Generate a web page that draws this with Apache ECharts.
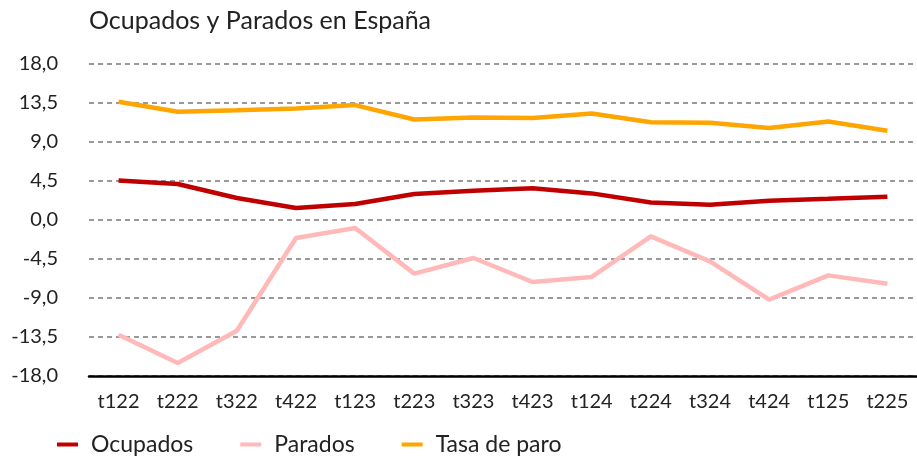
<!DOCTYPE html>
<html><head><meta charset="utf-8">
<script src="https://cdn.jsdelivr.net/npm/echarts@6/dist/echarts.min.js"></script>
<style>html,body{margin:0;padding:0;background:#fff}#c{width:917px;height:457px}</style>
</head><body><div id="c"></div>
<script>
const categories = ['t122','t222','t322','t422','t123','t223','t323','t423','t124','t224','t324','t424','t125','t225'];
const ocupados = [4.57, 4.15, 2.54, 1.38, 1.85, 3.0, 3.38, 3.65, 3.07, 2.03, 1.76, 2.22, 2.45, 2.69];
const parados = [-13.23, -16.5, -12.77, -2.08, -0.92, -6.19, -4.38, -7.15, -6.57, -1.89, -4.77, -9.19, -6.39, -7.35];
const tasaParo = [13.65, 12.48, 12.67, 12.87, 13.26, 11.60, 11.84, 11.76, 12.29, 11.27, 11.21, 10.61, 11.36, 10.29];
const seriesNames = ['Ocupados', 'Parados', 'Tasa de paro'];
const titleText = 'Ocupados y Parados en España';

const FONT = 'Lato';
const chart = echarts.init(document.getElementById('c'), null, {renderer: 'canvas'});
chart.setOption({
  animation: false,
  textStyle: {fontFamily: FONT},
  title: {text: titleText, left: 84, top: 3, textStyle: {fontFamily: FONT, fontSize: 25, fontWeight: 'normal', color: '#222'}},
  legend: {
    data: seriesNames, left: 52, top: 428, icon: 'rect', itemWidth: 21, itemHeight: 4, itemGap: 47,
    textStyle: {fontFamily: FONT, fontSize: 23, color: '#222', padding: [0, 0, 0, 8]}
  },
  grid: {left: 89, right: -12, top: 64, bottom: 81, containLabel: false},
  xAxis: {
    type: 'category', data: categories, boundaryGap: true,
    axisLine: {onZero: false, lineStyle: {color: '#000', width: 2.5}},
    axisTick: {show: false},
    axisLabel: {fontFamily: FONT, fontSize: 20, color: '#222', margin: 16, interval: 0}
  },
  yAxis: {
    type: 'value', min: -18, max: 18, interval: 4.5,
    axisLine: {show: false}, axisTick: {show: false},
    axisLabel: {fontFamily: FONT, fontSize: 20, color: '#222', margin: 31, formatter: v => v.toFixed(1).replace('.', ',')},
    splitLine: {lineStyle: {color: '#999', width: 2, type: [5, 4]}}
  },
  series: [
    {name: seriesNames[0], type: 'line', data: ocupados, showSymbol: false, symbol: 'none', lineStyle: {width: 4.5, color: '#C00000'}, itemStyle: {color: '#C00000'}},
    {name: seriesNames[1], type: 'line', data: parados, showSymbol: false, symbol: 'none', lineStyle: {width: 4.5, color: '#FFB9B9'}, itemStyle: {color: '#FFB9B9'}},
    {name: seriesNames[2], type: 'line', data: tasaParo, showSymbol: false, symbol: 'none', lineStyle: {width: 4.5, color: '#FFA500'}, itemStyle: {color: '#FFA500'}}
  ]
});
</script></body></html>
